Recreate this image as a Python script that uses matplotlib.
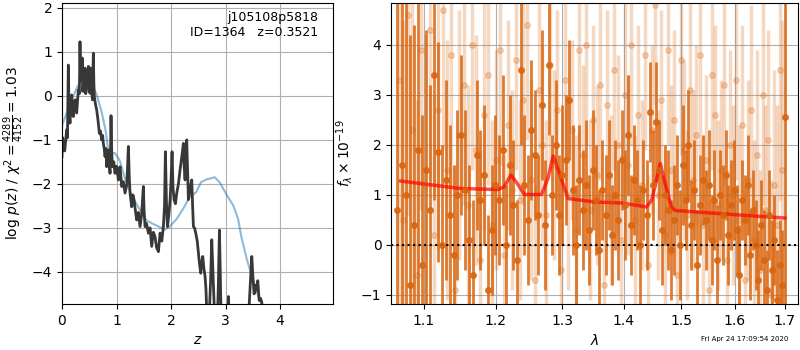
import numpy as np
import matplotlib
matplotlib.use('Agg')
import matplotlib.pyplot as plt
from matplotlib.ticker import FixedLocator, FixedFormatter, NullLocator

#redshift fit, log p(z) (black) and smoothed prior curve (blue)
z_pz = [0.0, 0.012, 0.024, 0.05, 0.086, 0.10, 0.116, 0.13, 0.147, 0.16, 0.177, 0.19, 0.208, 0.22,
        0.239, 0.255, 0.269, 0.285, 0.30, 0.318, 0.330, 0.34, 0.349, 0.36, 0.373, 0.382, 0.391, 0.405,
        0.422, 0.435, 0.453, 0.468, 0.483, 0.50, 0.514, 0.522, 0.532, 0.545, 0.557, 0.566, 0.575, 0.584,
        0.593, 0.615, 0.636, 0.66, 0.685, 0.705, 0.728, 0.745, 0.758, 0.775, 0.789, 0.805, 0.820, 0.835,
        0.850, 0.866, 0.881, 0.890, 0.899, 0.91, 0.924, 0.95, 0.972, 1.0, 1.034, 1.05, 1.064, 1.08,
        1.095, 1.125, 1.156, 1.19, 1.217, 1.235, 1.248, 1.278, 1.30, 1.321, 1.345, 1.370, 1.40, 1.431,
        1.46, 1.492, 1.505, 1.523, 1.55, 1.584, 1.615, 1.645, 1.675, 1.706, 1.735, 1.768, 1.798, 1.83,
        1.859, 1.88, 1.896, 1.915, 1.933, 1.96, 1.982, 2.0, 2.018, 2.036, 2.055, 2.08, 2.104, 2.135,
        2.165, 2.195, 2.226, 2.24, 2.257, 2.272, 2.287, 2.30, 2.318, 2.35, 2.379, 2.395, 2.410, 2.43,
        2.453, 2.48, 2.502, 2.52, 2.544, 2.56, 2.581, 2.60, 2.624, 2.64, 2.654, 2.68, 2.703, 2.725,
        2.746, 2.77, 2.789, 2.81, 2.838, 2.865, 2.887, 2.905, 2.924, 2.97, 3.021, 3.04, 3.052, 3.065,
        3.083, 3.2, 3.3, 3.388, 3.43, 3.48, 3.50, 3.523, 3.55, 3.572, 3.59, 3.615, 3.64, 3.664, 3.694]
logp = [-1.38, -0.95, -1.08, -1.25, -0.77, -0.95, 0.70, -0.40, -0.62, -0.25, 0.02, -0.35, -0.47, -0.15,
        -0.09, -0.30, -0.39, -0.10, 0.14, 0.05, 1.23, 0.40, 0.36, 0.55, 0.86, 0.10, 0.29, 0.20,
        0.63, 0.05, 0.21, 0.45, 0.67, 0.10, 0.06, 0.30, 0.63, 0.15, -0.09, 0.40, 0.97, 0.30,
        -0.02, -0.20, -0.32, -0.55, -0.85, -0.80, -1.00, -0.90, -1.08, -1.20, -1.38, -1.20, -1.61, -1.35,
        -1.23, -1.55, -1.76, -1.30, -0.45, -1.20, -1.61, -1.50, -1.76, -1.60, -1.91, -1.70, -1.61, -1.85,
        -2.06, -1.95, -2.21, -2.00, -1.15, -1.90, -2.21, -2.52, -2.25, -2.36, -2.60, -2.82, -2.65, -2.97,
        -2.70, -2.06, -2.60, -2.97, -2.90, -3.12, -3.00, -3.42, -3.10, -3.20, -3.45, -3.54, -3.12, -3.30,
        -2.97, -2.50, -1.27, -2.40, -2.97, -2.70, -2.36, -1.90, -1.27, -2.10, -2.36, -2.45, -2.21, -2.00,
        -1.68, -1.40, -1.08, -1.60, -1.91, -1.40, -1.00, -1.60, -2.36, -2.10, -1.91, -2.50, -2.97, -3.00,
        -3.12, -3.30, -3.58, -3.80, -4.03, -3.80, -3.65, -3.90, -4.11, -4.40, -4.90, -5.20, -4.90, -4.20,
        -3.27, -4.10, -4.72, -5.30, -5.60, -4.40, -3.05, -4.20, -5.60, -5.80, -5.60, -5.00, -4.56, -5.00,
        -5.80, -6.00, -6.00, -5.90, -4.80, -3.65, -4.10, -4.50, -4.30, -4.42, -4.20, -4.65, -4.60, -4.69, -5.40]
z_prior = [0.0, 0.08, 0.17, 0.29, 0.42, 0.51, 0.63, 0.72, 0.80, 0.84, 0.87, 0.97, 1.06, 1.15, 1.24,
           1.33, 1.42, 1.55, 1.67, 1.79, 1.88, 1.97, 2.10, 2.22, 2.34, 2.46, 2.55, 2.65, 2.80, 2.89,
           3.01, 3.14, 3.23, 3.29, 3.38, 3.47, 3.56, 3.66]
logp_prior = [-0.67, -0.41, -0.11, 0.23, 0.41, 0.35, 0.05, -0.33, -0.79, -1.17, -1.30, -1.30, -1.47,
              -1.85, -2.15, -2.38, -2.57, -2.83, -2.91, -2.98, -3.04, -2.98, -2.80, -2.57, -2.30, -2.19,
              -1.96, -1.90, -1.85, -1.96, -2.23, -2.49, -2.80, -3.21, -3.67, -4.05, -4.42, -4.74]

#best-fit model spectrum
lam_model = [1.07, 1.150, 1.203, 1.212, 1.222, 1.230, 1.242, 1.268, 1.278, 1.286, 1.294, 1.309,
             1.352, 1.397, 1.439, 1.448, 1.463, 1.472, 1.483, 1.490, 1.596, 1.70]
flux_model = [1.27, 1.12, 1.10, 1.15, 1.39, 1.25, 1.00, 1.00, 1.33, 1.77, 1.49, 0.92,
              0.85, 0.83, 0.75, 0.89, 1.62, 1.20, 0.74, 0.68, 0.60, 0.53]

#spectrum, beam 1 (dark)
lam_start_a, lam_end_a = 1.066, 1.700
flux_a = [0.7, 1.6, 1.0, -0.8, 0.4, 1.9, -0.4, 1.5, 0.7, 3.4,
          1.85, 0.0, 1.3, 0.6, -0.2, 1.0, 2.2, 1.1, 0.1, -0.6,
          1.8, 0.9, 1.4, -0.9, 0.3, 1.2, 0.9, 1.9, 0.0, 1.6,
          0.8, -0.3, 3.5, 1.2, 0.5, 2.3, 1.8, 0.6, 2.8, 0.4,
          3.6, 1.0, 2.0, 0.6, 1.4, 1.7, 2.9, 1.1, 0.0, 1.3,
          0.7, 1.2, 0.3, 1.5, 0.9, -0.1, 1.1, 0.6, 1.4, 0.2,
          1.0, 0.5, 1.7, 0.8, 2.2, 0.4, 1.3, 0.9, 0.0, 1.1,
          0.6, 2.65, 1.2, 2.45, 1.5, 0.3, 1.0, 0.7, -0.1, 0.5,
          1.2, 0.0, 1.6, 0.9, 2.0, 0.4, 1.1, -0.4, 0.8, 1.3,
          0.5, 1.2, 0.1, 0.9, -0.3, 1.0, 0.6, 1.4, 0.2, 0.8,
          1.1, 0.3, -0.6, 0.9, 0.5, 1.2, -0.2, 0.7, 0.0, -0.7,
          0.4, -0.3, -0.9, 0.6, -0.5, 0.1, -1.1, -0.4, -0.8, 2.55]
err_a = [6.0, 6.0, 5.0, 5.0, 4.0, 3.5, 3.0, 2.8, 2.5, 2.5,
         2.2, 2.0, 2.0, 1.8, 1.8, 1.7, 1.6, 1.6, 1.5, 1.5,
         1.5, 1.4, 1.4, 1.5, 1.3, 1.4, 1.3, 1.5, 1.2, 1.4,
         1.3, 1.2, 1.5, 1.4, 1.3, 1.4, 1.3, 1.2, 1.5, 1.3,
         1.4, 1.2, 1.3, 1.2, 1.4, 1.3, 1.2, 1.3, 1.2, 1.1,
         1.2, 1.3, 1.1, 1.2, 1.1, 1.2, 1.0, 1.2, 1.1, 1.0,
         1.1, 1.2, 1.0, 1.1, 1.2, 1.0, 1.1, 1.0, 1.2, 1.0,
         1.1, 1.0, 1.1, 1.2, 1.0, 1.1, 1.0, 1.2, 1.0, 1.1,
         1.0, 1.1, 1.2, 1.0, 1.1, 0.9, 1.0, 1.1, 1.0, 0.9,
         1.0, 1.1, 0.9, 1.0, 1.1, 0.9, 1.0, 0.9, 1.0, 0.9,
         1.0, 0.9, 1.0, 0.8, 0.9, 1.0, 0.9, 0.8, 0.9, 1.0,
         0.9, 1.0, 0.8, 0.9, 1.0, 0.9, 1.0, 0.9, 1.1, 6.0]

#spectrum, beam 2 (light)
lam_start_b, lam_end_b = 1.068, 1.695
flux_b = [3.3, 0.5, 4.6, 2.3, -0.6, 3.9, 1.2, 4.3, 0.2, 2.7,
          4.7, 1.5, 3.8, -0.9, 2.2, 3.2, 0.8, 4.0, 1.9, -0.3,
          2.6, 3.4, 0.4, 1.7, 3.9, -0.2, 2.4, 1.1, 3.7, 0.9,
          2.9, 4.4, 1.3, -0.7, 3.1, 2.0, 0.6, 3.6, 1.6, 2.7,
          -0.5, 3.3, 1.0, 2.3, 0.3, 3.9, 1.8, 4.0, 0.7, 2.5,
          1.4, 3.2, -0.8, 2.8, 0.9, 3.5, 2.0, 0.1, 3.0, 1.6,
          4.0, 0.5, 2.6, 1.2, 3.8, -0.4, 2.3, 4.8, 1.0, 2.9,
          0.2, 3.9, 1.5, 2.5, -0.6, 3.7, 1.9, 0.6, 3.1, 1.3,
          2.2, 3.8, 0.4, 1.7, -0.9, 3.4, 2.6, 0.8, 1.5, 3.2,
          -0.3, 2.0, 1.0, 3.3, 0.5, 2.4, -0.7, 1.3, 2.7, 0.1,
          1.8, -0.5, 3.0, 0.7, 2.1, -1.0, 1.2, 0.4, 3.5, 1.5]
err_b = [4.5, 4.0, 4.0, 3.5, 3.5, 3.2, 3.0, 3.0, 2.8, 2.8,
         2.8, 2.6, 2.6, 2.5, 2.5, 2.4, 2.4, 2.5, 2.3, 2.2,
         2.3, 2.2, 2.1, 2.2, 2.3, 2.0, 2.1, 2.0, 2.2, 2.0,
         2.1, 2.3, 2.0, 1.9, 2.1, 2.0, 1.9, 2.1, 1.9, 2.0,
         1.8, 2.0, 1.9, 1.8, 1.9, 2.0, 1.8, 2.0, 1.8, 1.9,
         1.8, 1.9, 1.8, 1.9, 1.7, 2.0, 1.8, 1.7, 1.9, 1.8,
         2.0, 1.7, 1.8, 1.7, 1.9, 1.8, 1.7, 2.0, 1.7, 1.8,
         1.7, 1.9, 1.7, 1.8, 1.7, 1.9, 1.8, 1.7, 1.9, 1.8,
         1.8, 2.0, 1.8, 1.7, 1.8, 1.9, 1.8, 1.7, 1.8, 2.0,
         1.8, 1.9, 1.8, 2.0, 1.9, 2.0, 1.9, 2.0, 2.1, 2.0,
         2.1, 2.0, 2.2, 2.1, 2.2, 2.3, 2.3, 2.4, 2.6, 3.0]

lam_ticks = [1.1, 1.2, 1.3, 1.4, 1.5, 1.6, 1.7]
title_text = 'j105108p5818\nID=1364   z=0.3521'
stamp_text = 'Fri Apr 24 17:09:54 2020'

dark_orange = '#d9650f'

fig = plt.figure(figsize=(8, 3.5), dpi=100)
ax1 = fig.add_axes([0.0775, 0.1314, 0.3388, 0.86])
ax2 = fig.add_axes([0.489, 0.1314, 0.5085, 0.86])

#left panel, p(z)
ax1.plot(z_prior, logp_prior, color='C0', alpha=0.5, lw=1.5)
ax1.plot(z_pz, logp, color='0.22', lw=2)
ax1.set_xlim(0, 4.97)
ax1.set_ylim(-4.73, 2.11)
ax1.set_xticks([0, 1, 2, 3, 4])
ax1.grid()
ax1.set_xlabel('$z$')
ax1.set_ylabel(r'$\log\,p(z)$ / $\chi^2=\frac{4289}{4152}=1.03$')
ax1.text(0.945, 0.975, title_text, ha='right', va='top', fontsize=9,
         transform=ax1.transAxes)

#right panel, 1D spectrum
lam_a = np.linspace(lam_start_a, lam_end_a, len(flux_a))
lam_b = np.linspace(lam_start_b, lam_end_b, len(flux_b))
ax2.errorbar(lam_b, flux_b, yerr=err_b, marker='o', ms=4, ls='none',
             color=dark_orange, alpha=0.25, elinewidth=2.5)
ax2.errorbar(lam_a, flux_a, yerr=err_a, marker='o', ms=4, ls='none',
             color=dark_orange, alpha=0.85, elinewidth=2)
ax2.plot(lam_model, flux_model, color='r', alpha=0.7, lw=2.5)
ax2.axhline(0, color='k', ls=':', lw=1.5)
ax2.set_xscale('log')
ax2.xaxis.set_major_locator(FixedLocator(lam_ticks))
ax2.xaxis.set_major_formatter(FixedFormatter([str(t) for t in lam_ticks]))
ax2.xaxis.set_minor_locator(NullLocator())
ax2.set_xlim(1.058, 1.727)
ax2.set_ylim(-1.19, 4.83)
ax2.grid()
ax2.set_xlabel(r'$\lambda$')
ax2.set_ylabel(r'$f_\lambda\times10^{-19}$')

fig.text(0.985, 0.031, stamp_text, ha='right', va='center', fontsize=5)

fig.savefig('out.png')
